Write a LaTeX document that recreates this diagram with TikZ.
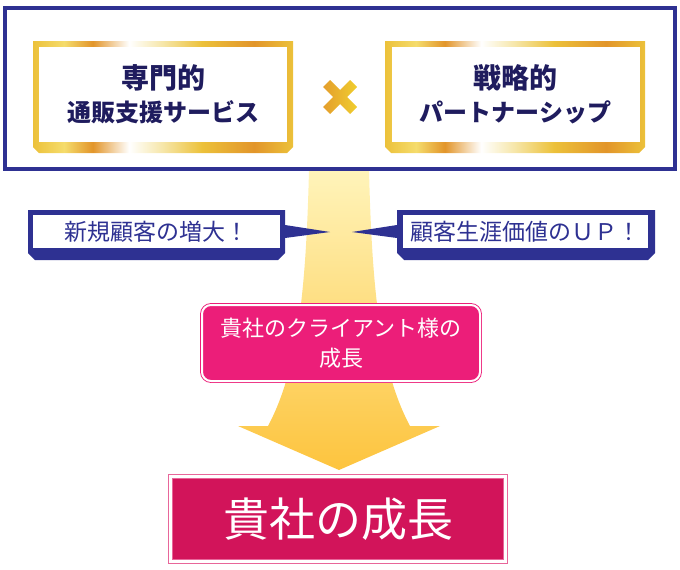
\documentclass[tikz,border=0pt]{standalone}
\usepackage{fontspec}
\usepackage{tikz}
\usepackage{xcolor}
\newfontfamily\jpfont{Noto Sans CJK JP}
\definecolor{navy}{HTML}{2E3192}
\definecolor{ink}{HTML}{1F1C5E}
\definecolor{hotpink}{HTML}{EC1E79}
\definecolor{rosered}{HTML}{D2145A}
\definecolor{roseline}{HTML}{E8669A}
\definecolor{goldA}{HTML}{ECC13A}
\definecolor{goldB}{HTML}{F5DC6C}
\definecolor{goldC}{HTML}{E2952A}
\definecolor{goldD}{HTML}{F6E6A8}
\definecolor{paleyel}{HTML}{FFF4BA}
\definecolor{deepyel}{HTML}{FDC43E}
\pgfdeclarehorizontalshading{goldband}{100bp}{color(0bp)=(goldA); color(25bp)=(goldA);
  color(31bp)=(goldB); color(36.5bp)=(goldC); color(43.5bp)=(white); color(50bp)=(goldD);
  color(57.5bp)=(goldA); color(67.5bp)=(goldC); color(75bp)=(goldA); color(100bp)=(goldA)}

\begin{document}
\begin{tikzpicture}[x=1pt, y=-1pt,
  outerframe/.style={draw=navy, line width=4pt, inner sep=0pt, minimum width=670pt, minimum height=161pt},
  goldrim/.style={shading=goldband},
  goldbox/.style={fill=white, inner sep=0pt, align=center, text=ink, minimum width=248pt, minimum height=95pt,
    font=\jpfont\bfseries\fontsize{24}{33}\selectfont},
  crossfill/.style={left color=goldC!80!goldA, right color=goldA!80!yellow},
  callout/.style={fill=white, inner sep=0pt, text=navy, minimum height=33pt, font=\jpfont\fontsize{23}{27}\selectfont},
  arrowfill/.style={top color=paleyel, bottom color=deepyel},
  pinkbox/.style={fill=hotpink, draw=hotpink, double=white, double distance=2pt, line width=0.9pt, rounded corners=9pt,
    minimum width=278pt, minimum height=76pt, inner sep=0pt, align=center, text=white, font=\jpfont\fontsize{22}{30}\selectfont},
  goalbox/.style={fill=rosered, draw=roseline, double=white, double distance=3pt, line width=1pt,
    minimum width=335pt, minimum height=85pt, inner sep=0pt, text=white, font=\jpfont\fontsize{46}{50}\selectfont},
]
\useasboundingbox (0,0) rectangle (680,570);

% big arrow behind everything
\coordinate (tip) at (339,470);
\begin{scope}[shift={(tip)}]
  \shade[arrowfill] (-30,-300) .. controls (-33,-180) and (-41,-100) .. (-71,-44) -- (-101,-44) -- (0,0)
    -- (101,-44) -- (71,-44) .. controls (41,-100) and (33,-180) .. (30,-300) -- cycle;
\end{scope}

\node[outerframe] (frame) at (340,88) {};

% the two gold boxes
\shade[goldrim] (33,41) -- (293,41) -- (293,147) -- (287,153) -- (39,153) -- (33,147) -- cycle;
\node[goldbox] (service) at (163,94.5) {{\fontsize{28}{33}\selectfont 専門的}\\通販支援サービス};
\shade[goldrim] (385,41) -- (645,41) -- (645,147) -- (639,153) -- (391,153) -- (385,147) -- cycle;
\node[goldbox] (partner) at (515.5,94.5) {{\fontsize{28}{33}\selectfont 戦略的}\\パートナーシップ};

\coordinate (times) at (340,97);
\begin{scope}[shift={(times)}]
  \shade[crossfill] (-17,-10) -- (-10,-17) -- (0,-7) -- (10,-17) -- (17,-10) -- (7,0) -- (17,10)
    -- (10,17) -- (0,7) -- (-10,17) -- (-17,10) -- (-7,0) -- cycle;
\end{scope}

% callouts pointing at the arrow
\fill[navy] (28,210) -- (285,210) -- (285,225) -- (330,232) -- (285,238) -- (285,253) -- (278,260)
  -- (35,260) -- (28,253) -- cycle;
\node[callout, minimum width=247pt] (newcust) at (156.5,231.5) {新規顧客の増大！};
\fill[navy] (397,210) -- (655,210) -- (655,253) -- (648,260) -- (404,260) -- (397,253) -- (397,238)
  -- (352,232) -- (397,225) -- cycle;
\node[callout, minimum width=245pt] (ltv) at (525.5,231.5) {顧客生涯価値のＵＰ！};

\node[pinkbox] (client) at (341,343) {貴社のクライアント様の\\成長};
\node[goalbox] (goal) at (338,519) {貴社の成長};
\end{tikzpicture}
\end{document}
